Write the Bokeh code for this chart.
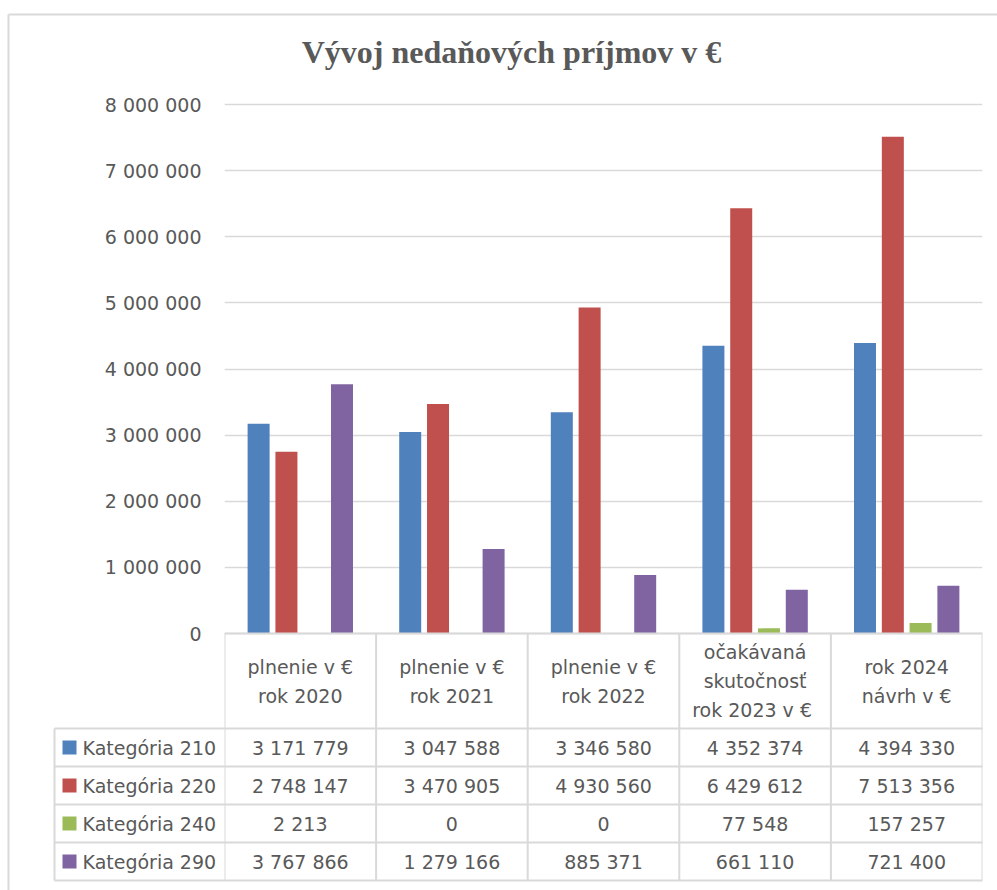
from bokeh.plotting import figure
from bokeh.models import Range1d, FixedTicker
from bokeh.embed import file_html
from bokeh.resources import INLINE
from bokeh.core.properties import value

# ---------------- data ----------------
title_text = "Vývoj nedaňových príjmov v €"
categories = [
    "plnenie v €\nrok 2020",
    "plnenie v €\nrok 2021",
    "plnenie v €\nrok 2022",
    "očakávaná\nskutočnosť\nrok 2023  v €",
    "rok 2024\nnávrh v €",
]
series_names = ["Kategória 210", "Kategória 220", "Kategória 240", "Kategória 290"]
kat_210 = [3171779, 3047588, 3346580, 4352374, 4394330]
kat_220 = [2748147, 3470905, 4930560, 6429612, 7513356]
kat_240 = [2213, 0, 0, 77548, 157257]
kat_290 = [3767866, 1279166, 885371, 661110, 721400]
series_values = [kat_210, kat_220, kat_240, kat_290]
y_ticks = [0, 1000000, 2000000, 3000000, 4000000, 5000000, 6000000, 7000000, 8000000]
y_tick_labels = ["0", "1 000 000", "2 000 000", "3 000 000", "4 000 000",
                 "5 000 000", "6 000 000", "7 000 000", "8 000 000"]
colors = ["#4F81BD", "#C0504D", "#9BBB59", "#8064A2"]

# ---------------- style / layout (page pixel positions) ----------------
TXT = "#595959"
LINE = "#D9D9D9"
FONT = "DejaVu Sans"
FS = "19px"
W, H = 997, 890
PAGE0 = 0                  # the page's body margin is 0
PLOT_L, PLOT_R = 224, 982  # plot columns
ZERO_Y, TOP_Y = 633, 104   # y of 0 and of 8 000 000
N = len(categories)
COL_W = (PLOT_R - PLOT_L) / N
PX_PER_UNIT = (ZERO_Y - TOP_Y) / 8000000.0


def ux(px):
    return (px - PLOT_L) / COL_W


def uy(py):
    return (ZERO_Y - py) / PX_PER_UNIT


p = figure(width=W, height=H, output_backend="svg", toolbar_location=None,
           x_range=Range1d(0, N), y_range=Range1d(uy(PAGE0 + H), uy(PAGE0)),
           x_axis_location=None,
           min_border_left=PLOT_L - PAGE0, min_border_right=PAGE0 + W - PLOT_R,
           min_border_top=0, min_border_bottom=0)
p.outline_line_color = None
p.xgrid.visible = False
p.ygrid.grid_line_color = LINE
p.ygrid.grid_line_width = 1.5
p.yaxis.ticker = FixedTicker(ticks=y_ticks)
p.yaxis.major_label_overrides = {t: l for t, l in zip(y_ticks, y_tick_labels)}
p.yaxis.axis_line_color = None
p.yaxis.major_tick_line_color = None
p.yaxis.minor_tick_line_color = None
p.yaxis.major_label_standoff = 17
p.yaxis.major_label_text_font = FONT
p.yaxis.major_label_text_font_size = FS
p.yaxis.major_label_text_color = TXT

# bars
offsets = [-0.275, -0.0915, 0.0915, 0.275]
bar_w = 22 / COL_W
for j, (name, vals) in enumerate(zip(series_names, series_values)):
    xs = [i + 0.5 + offsets[j] for i in range(N)]
    p.vbar(x=xs, top=vals, width=bar_w, bottom=0, fill_color=colors[j], line_color=None)

# title
p.text(x=[ux(511)], y=[uy(51)], text=[title_text],
       text_font=value("Liberation Serif"), text_font_style="bold", text_font_size="32px",
       text_color=TXT, text_align="center", text_baseline="alphabetic")

# ---------------- data table ----------------
HEAD_B = 728
ROW_H = 38
LEG_L = 54
row_lines = [HEAD_B + k * ROW_H for k in range(len(series_names) + 1)]
TAB_B = row_lines[-1]

x0s, x1s, y0s, y1s = [], [], [], []
x0s.append(0); x1s.append(N); y0s.append(0); y1s.append(0)
for i in range(N + 1):
    x0s.append(i); x1s.append(i); y0s.append(0); y1s.append(uy(TAB_B))
p.segment(x0=x0s, y0=y0s, x1=x1s, y1=y1s, line_color=LINE, line_width=2)

# lines that reach into the legend column (outside the frame)
lx0, lx1, ly0, ly1 = [], [], [], []
for yl in row_lines:
    lx0.append(ux(LEG_L)); lx1.append(N); ly0.append(uy(yl)); ly1.append(uy(yl))
lx0.append(ux(LEG_L)); lx1.append(ux(LEG_L)); ly0.append(uy(HEAD_B)); ly1.append(uy(TAB_B))
# outer chart border (top and left)
lx0.append(ux(8)); lx1.append(ux(W + 5)); ly0.append(uy(14)); ly1.append(uy(14))
lx0.append(ux(8)); lx1.append(ux(8)); ly0.append(uy(14)); ly1.append(uy(H + 5))
p.segment(x0=lx0, y0=ly0, x1=lx1, y1=ly1, line_color=LINE, line_width=2, level="overlay")

# header texts
hx, hy, ht = [], [], []
head_mid = (ZERO_Y + HEAD_B) / 2
for i, cat in enumerate(categories):
    lines = cat.split("\n")
    n = len(lines)
    for k, ln in enumerate(lines):
        hx.append(i + 0.5)
        hy.append(uy(head_mid + (k - (n - 1) / 2) * 29))
        ht.append(ln)
p.text(x=hx, y=hy, text=ht, text_font=value(FONT), text_font_size=FS, text_color=TXT,
       text_align="center", text_baseline="middle")

# cell values
cx, cy, ct = [], [], []
for j, vals in enumerate(series_values):
    for i, v in enumerate(vals):
        cx.append(i + 0.5)
        cy.append(uy(HEAD_B + (j + 0.5) * ROW_H))
        ct.append(f"{v:,}".replace(",", " "))
p.text(x=cx, y=cy, text=ct, text_font=value(FONT), text_font_size=FS, text_color=TXT,
       text_align="center", text_baseline="middle")

# legend keys: 14px squares in the legend column (each polygon has a zero-area
# spike reaching into the frame so that the glyph is not culled)
kxs, kys = [], []
for j, name in enumerate(series_names):
    c = HEAD_B + (j + 0.5) * ROW_H
    l, r, t, b = ux(62), ux(76), uy(c - 7), uy(c + 7)
    spike = ux(PLOT_L + 6)
    kxs.append([l, r, r, spike, r, r, l])
    kys.append([t, t, uy(c), uy(c), uy(c), b, b])
p.patches(xs=kxs, ys=kys, fill_color=colors, line_color=None, level="overlay")

ly = [uy(HEAD_B + (j + 0.5) * ROW_H) for j in range(len(series_names))]
p.text(x=[ux(82)] * len(series_names), y=ly, text=series_names, text_font=value(FONT),
       text_font_size=FS, text_color=TXT, text_align="left", text_baseline="middle",
       level="overlay")

open("out.html", "w").write(file_html(p, INLINE))
